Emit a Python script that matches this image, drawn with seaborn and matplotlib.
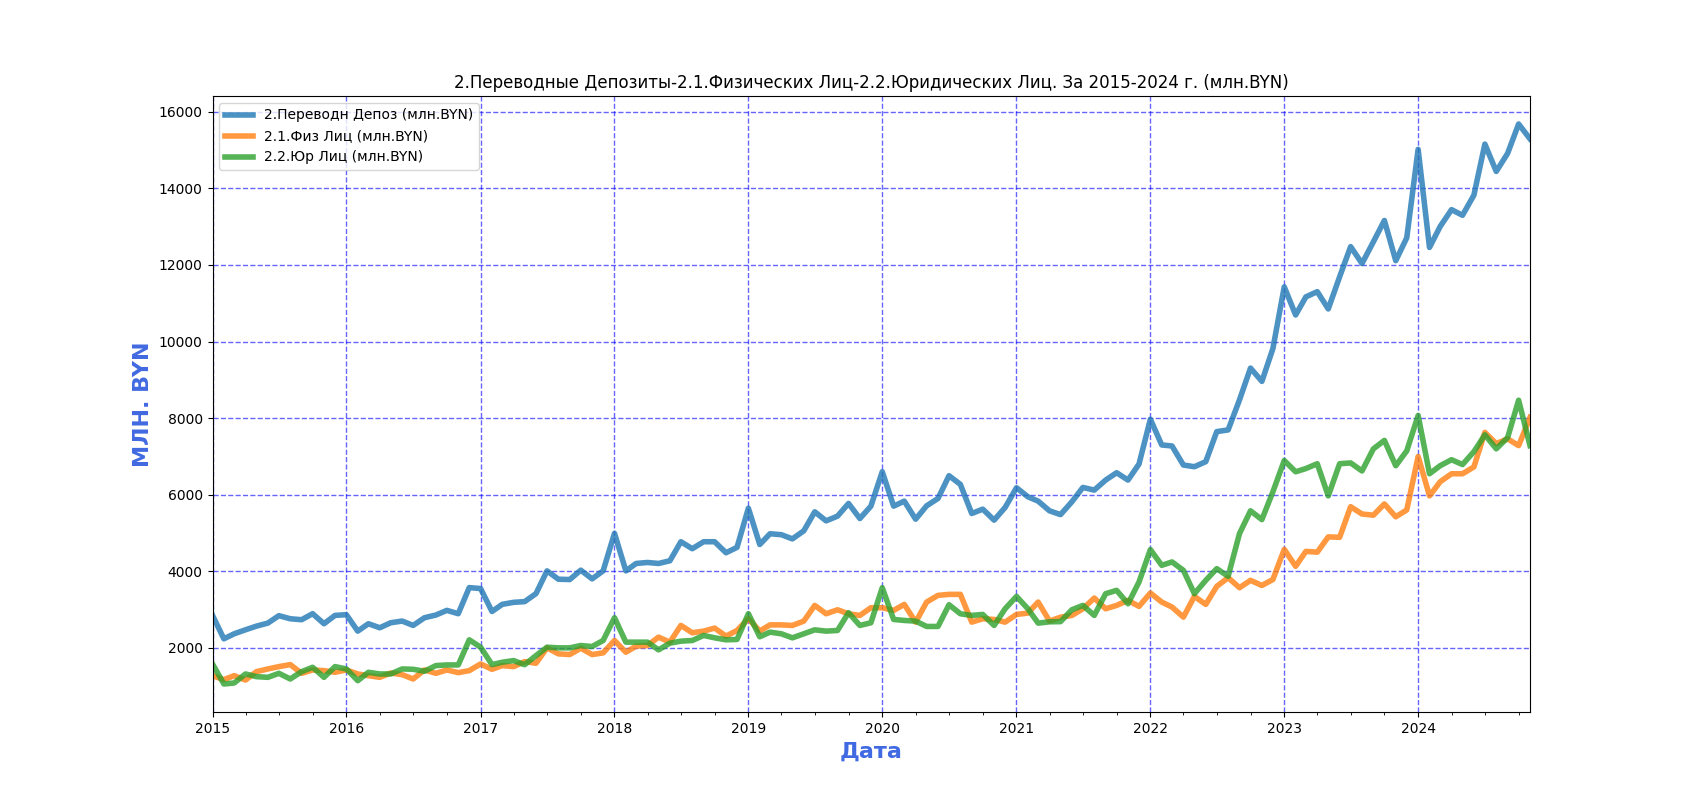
import numpy as np
import pandas as pd
import matplotlib
matplotlib.use("Agg")
import matplotlib.pyplot as plt
import matplotlib.dates as mdates
import seaborn as sns

start_month = "2015-01-01"
n_months = 119

total = [2848, 2236, 2367, 2472, 2568, 2647, 2840, 2760, 2735, 2892, 2630, 2848,
         2866, 2437, 2630, 2525, 2656, 2700, 2586, 2787, 2857, 2979, 2892, 3574,
         3548, 2950, 3137, 3189, 3207, 3417, 4011, 3793, 3784, 4029, 3802, 4011,
         4991, 4011, 4204, 4230, 4204, 4274, 4772, 4589, 4772, 4772, 4484, 4624,
         5647, 4700, 4980, 4955, 4846, 5056, 5553, 5317, 5440, 5771, 5378, 5701,
         6601, 5701, 5832, 5361, 5710, 5902, 6496, 6269, 5509, 5623, 5335, 5667,
         6182, 5946, 5832, 5579, 5480, 5815, 6190, 6120, 6382, 6574, 6382, 6801,
         7971, 7299, 7273, 6775, 6731, 6863, 7648, 7692, 8478, 9307, 8960, 9815,
         11429, 10694, 11167, 11303, 10852, 11692, 12479, 12038, 12605, 13162, 12112, 12710,
         15020, 12458, 13004, 13445, 13298, 13823, 15157, 14443, 14915, 15682, 15293]

individuals = [1274, 1169, 1274, 1160, 1379, 1449, 1510, 1563, 1335, 1423, 1405, 1362,
               1423, 1318, 1274, 1230, 1344, 1300, 1187, 1423, 1335, 1423, 1353, 1405,
               1580, 1440, 1537, 1510, 1641, 1598, 2000, 1843, 1825, 1991, 1825, 1869,
               2192, 1886, 2044, 2061, 2280, 2149, 2586, 2394, 2437, 2516, 2306, 2455,
               2761, 2440, 2600, 2600, 2585, 2698, 3109, 2890, 2995, 2890, 2847, 3048,
               3048, 2978, 3135, 2672, 3196, 3371, 3397, 3397, 2672, 2760, 2742, 2672,
               2873, 2908, 3196, 2700, 2800, 2847, 3021, 3301, 3021, 3109, 3240, 3083,
               3432, 3196, 3065, 2803, 3344, 3135, 3606, 3833, 3571, 3763, 3630, 3785,
               4573, 4131, 4520, 4499, 4898, 4888, 5686, 5496, 5465, 5759, 5423, 5602,
               6998, 5969, 6337, 6547, 6547, 6725, 7628, 7334, 7460, 7282, 8017]

legal = [1580, 1056, 1082, 1318, 1248, 1230, 1335, 1187, 1379, 1493, 1230, 1510,
         1449, 1143, 1362, 1318, 1318, 1449, 1440, 1390, 1537, 1554, 1554, 2210,
         2017, 1563, 1624, 1668, 1560, 1799, 2017, 2000, 2000, 2061, 2035, 2192,
         2787, 2149, 2149, 2149, 1948, 2122, 2175, 2192, 2324, 2262, 2210, 2219,
         2892, 2290, 2410, 2367, 2262, 2367, 2471, 2437, 2454, 2917, 2585, 2655,
         3571, 2742, 2716, 2698, 2559, 2559, 3126, 2890, 2847, 2873, 2585, 3021,
         3344, 3021, 2646, 2680, 2685, 2995, 3109, 2847, 3414, 3502, 3152, 3720,
         4567, 4156, 4244, 4025, 3414, 3763, 4069, 3868, 4986, 5579, 5350, 6075,
         6893, 6599, 6683, 6809, 5969, 6809, 6830, 6620, 7198, 7418, 6757, 7145,
         8069, 6547, 6757, 6914, 6788, 7124, 7565, 7198, 7492, 8468, 7282]

labels = ["2.Переводн Депоз (млн.BYN)", "2.1.Физ Лиц (млн.BYN)", "2.2.Юр Лиц (млн.BYN)"]
title = "2.Переводные Депозиты-2.1.Физических Лиц-2.2.Юридических Лиц. За 2015-2024 г. (млн.BYN)"

dates = pd.date_range(start_month, periods=n_months, freq="MS")
df = pd.DataFrame({"date": dates, labels[0]: total, labels[1]: individuals, labels[2]: legal})

fig, ax = plt.subplots(figsize=(17, 8), dpi=100)
colors = ["#1f77b4", "#ff7f0e", "#2ca02c"]
for lab, col in zip(labels, colors):
    sns.lineplot(data=df, x="date", y=lab, ax=ax, color=col, linewidth=4, alpha=0.8, label=lab)

ax.set_xlim(dates[0], dates[-1])
ax.xaxis.set_major_locator(mdates.YearLocator())
ax.xaxis.set_major_formatter(mdates.DateFormatter("%Y"))
ax.xaxis.set_minor_locator(mdates.MonthLocator(bymonth=[1, 4, 7, 10]))
ax.set_yticks(range(2000, 16001, 2000))

ax.grid(True, which="major", color="blue", linestyle="--", linewidth=1, alpha=0.6)
ax.set_title(title, fontsize=12)
ax.set_xlabel("Дата", fontsize=16, fontweight="bold", color="royalblue")
ax.set_ylabel("МЛН. BYN", fontsize=16, fontweight="bold", color="royalblue")
ax.legend(loc="upper left")

fig.savefig("out.png", dpi=100)
